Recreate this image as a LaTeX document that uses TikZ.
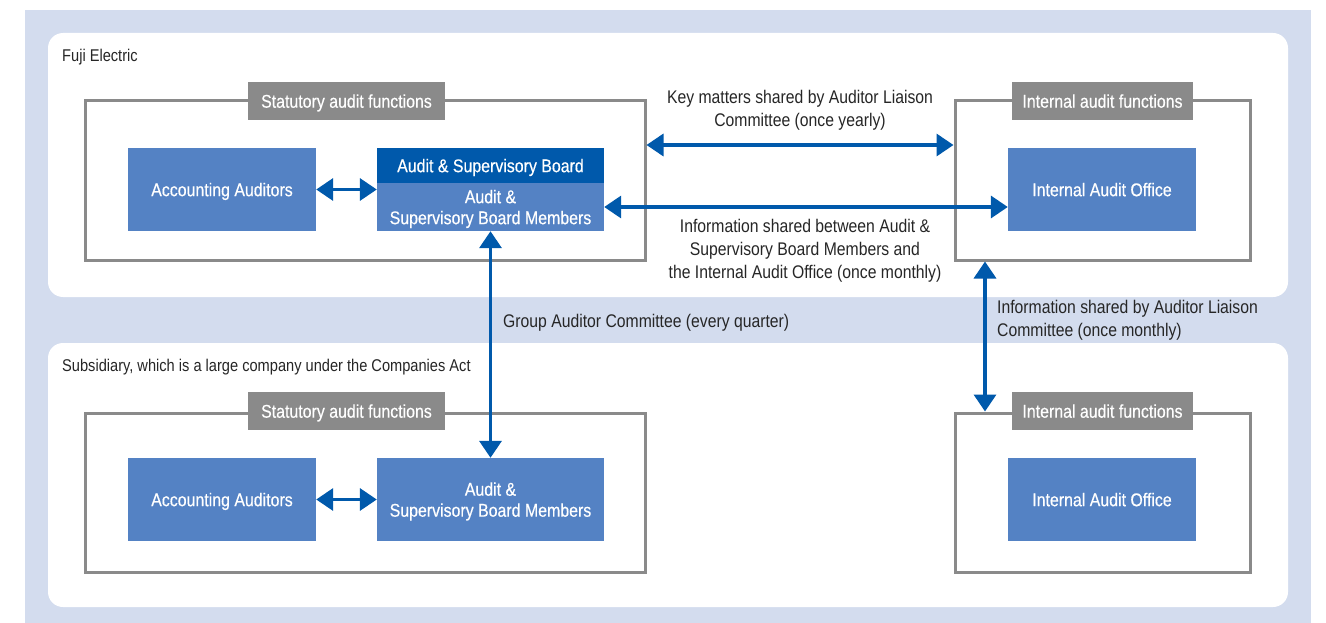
\documentclass[tikz,border=0pt]{standalone}
\usepackage{fontspec}
\setmainfont{Liberation Sans}[FakeStretch=0.86]
\newfontfamily\boxfont{Liberation Sans}[FakeStretch=0.86, FakeBold=0.4]
\usetikzlibrary{arrows.meta}
\definecolor{bgblue}{HTML}{D3DCEE}
\definecolor{boxblue}{HTML}{5482C4}
\definecolor{darkblue}{HTML}{0059AB}
\definecolor{framegray}{HTML}{8A8A8A}
\tikzset{
  panel/.style={fill=white, draw=none, rounded corners=15pt},
  frame/.style={draw=framegray, line width=3pt, fill=none, inner sep=0pt},
  tag/.style={fill=framegray, text=white, inner sep=0pt, minimum height=38pt, text depth=0pt, font=\boxfont\fontsize{18.5}{21}\selectfont},
  box/.style={fill=boxblue, text=white, inner sep=0pt, align=center, text depth=0pt, font=\boxfont\fontsize{18.5}{21}\selectfont},
  heading/.style={text=black!85, inner sep=0pt, anchor=west, font=\fontsize{17}{23}\selectfont},
  lbl/.style={text=black!85, inner sep=0pt, align=center, font=\fontsize{18.3}{23}\selectfont},
  link/.style={darkblue, line width=3.5pt, {Triangle[length=17pt,width=22pt]}-{Triangle[length=17pt,width=22pt]}}
}
\begin{document}
\begin{tikzpicture}[x=1pt,y=-1pt]
\useasboundingbox (0,0) rectangle (1326,623);
\fill[bgblue] (25,10) rectangle (1311,623);
\fill[panel] (48,33) rectangle (1288,297);
\fill[panel] (48,343) rectangle (1288,607);

\node[heading] (fuji) at (62,57) {Fuji Electric};
\node[heading] (subs) at (62,367) {Subsidiary, which is a large company under the Companies Act};

% Fuji Electric
\node[frame, minimum width=560pt, minimum height=159pt] (stat1) at (365,180.5) {};
\node[tag, minimum width=197pt] (stattag1) at (346.5,101) {Statutory audit functions};
\node[box, minimum width=188pt, minimum height=83pt] (acc1) at (222,189.5) {Accounting Auditors};
\node[box, fill=darkblue, minimum width=227pt, minimum height=35pt] (asbh) at (490.5,165.5) {Audit \& Supervisory Board};
\node[box, minimum width=227pt, minimum height=48pt] (asbm1) at (490.5,207) {Audit \&\\Supervisory Board Members};
\node[frame, minimum width=295pt, minimum height=159pt] (int1) at (1102.5,180.5) {};
\node[tag, minimum width=181pt] (inttag1) at (1102.5,101) {Internal audit functions};
\node[box, minimum width=188pt, minimum height=83pt] (iao1) at (1102,189.5) {Internal Audit Office};

% Subsidiary
\node[frame, minimum width=560pt, minimum height=159pt] (stat2) at (365,492.5) {};
\node[tag, minimum width=197pt] (stattag2) at (346.5,411) {Statutory audit functions};
\node[box, minimum width=188pt, minimum height=83pt] (acc2) at (222,499.5) {Accounting Auditors};
\node[box, minimum width=227pt, minimum height=83pt] (asbm2) at (490.5,499.5) {Audit \&\\Supervisory Board Members};
\node[frame, minimum width=295pt, minimum height=159pt] (int2) at (1102.5,492.5) {};
\node[tag, minimum width=181pt] (inttag2) at (1102.5,411) {Internal audit functions};
\node[box, minimum width=188pt, minimum height=83pt] (iao2) at (1102,499.5) {Internal Audit Office};

% links
\coordinate (keyy) at (0,145);
\coordinate (liaisonx) at (985,0);
\draw[link] (acc1.east) -- (acc1.east -| asbm1.west);
\draw[link] (acc2.east) -- (acc2.east -| asbm2.west);
\draw[link] (stat1.east |- keyy) -- (int1.west |- keyy);
\draw[link] (asbm1.east) -- (asbm1.east -| iao1.west);
\draw[link] (asbm1) -- (asbm2);
\draw[link] (int1.south -| liaisonx) -- (int2.north -| liaisonx);

\node[lbl] (keylbl) at (800,110.5) {Key matters shared by Auditor Liaison\\Committee (once yearly)};
\node[lbl] (infolbl) at (805,250.5) {Information shared between Audit \&\\Supervisory Board Members and\\the Internal Audit Office (once monthly)};
\node[lbl, anchor=west] (grouplbl) at (503,323) {Group Auditor Committee (every quarter)};
\node[lbl, anchor=west, align=left] (liaisonlbl) at (997,320.5) {Information shared by Auditor Liaison\\Committee (once monthly)};
\end{tikzpicture}
\end{document}
